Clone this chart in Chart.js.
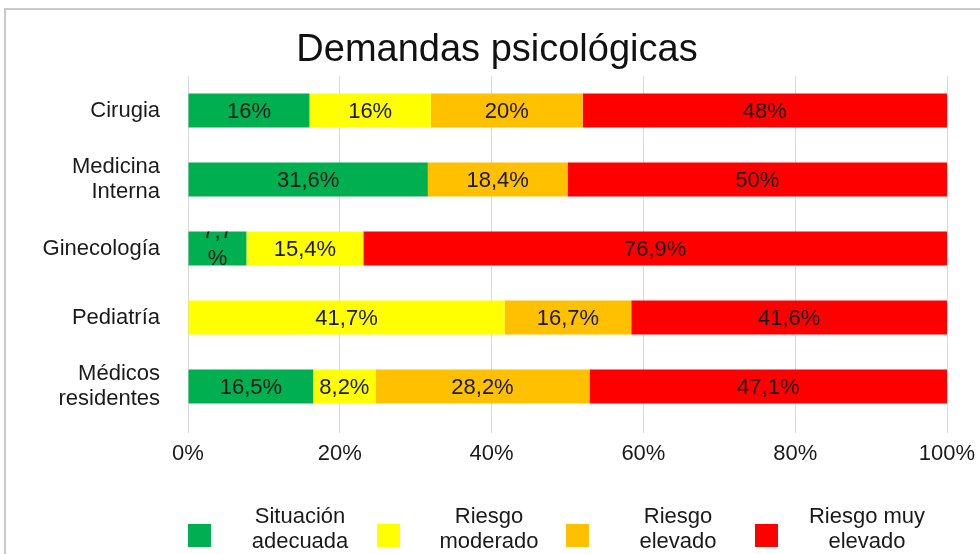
<!DOCTYPE html>
<html><head><meta charset="utf-8">
<script src="https://cdn.jsdelivr.net/npm/chart.js@4.4.1/dist/chart.umd.min.js"></script>
<style>
html,body{margin:0;padding:0;background:#fff;}
#wrap{position:relative;width:980px;height:554px;overflow:hidden;background:#fff;}
#frame{position:absolute;left:4px;top:8px;width:1000px;height:600px;border-top:2px solid #c9c9c9;border-left:2px solid #c9c9c9;}
canvas{position:absolute;left:0;top:0;}
</style></head><body>
<div id="wrap"><div id="frame"></div><canvas id="c" width="980" height="554"></canvas></div>
<script>
const categories = ['Cirugia', ['Medicina','Interna'], 'Ginecología', 'Pediatría', ['Médicos','residentes']];
const seriesNames = [['Situación','adecuada'], ['Riesgo','moderado'], ['Riesgo','elevado'], ['Riesgo muy','elevado']];
const situacionAdecuada = [16, 31.6, 7.7, 0, 16.5];
const riesgoModerado   = [16, 0, 15.4, 41.7, 8.2];
const riesgoElevado    = [20, 18.4, 0, 16.7, 28.2];
const riesgoMuyElevado = [48, 50, 76.9, 41.6, 47.1];
const xTickValues = [0, 20, 40, 60, 80, 100];
const seriesColors = ['#00B050', '#FFFF00', '#FFC000', '#FF0000'];

const FONT = '"Liberation Sans", Arial, sans-serif';
const TEXT = '#1a1a1a';

const fmt = v => String(v).replace('.', ',');

const barLabels = {
  id: 'barLabels',
  afterDatasetsDraw(chart) {
    const ctx = chart.ctx;
    ctx.save();
    ctx.font = '22px ' + FONT;
    ctx.fillStyle = TEXT;
    ctx.textAlign = 'center';
    ctx.textBaseline = 'middle';
    chart.data.datasets.forEach((ds, di) => {
      const meta = chart.getDatasetMeta(di);
      meta.data.forEach((bar, i) => {
        const v = ds.data[i];
        if (!v) return;
        const p = bar.getProps(['x', 'y', 'base', 'height'], true);
        const left = Math.min(p.x, p.base), right = Math.max(p.x, p.base);
        const w = right - left;
        const cx = (left + right) / 2;
        const txt = fmt(v) + '%';
        if (ctx.measureText(txt).width + 10 > w) {
          ctx.save();
          ctx.beginPath();
          ctx.rect(left, p.y - p.height / 2, w, p.height);
          ctx.clip();
          ctx.fillText(fmt(v), cx, p.y - 17);
          ctx.fillText('%', cx, p.y + 10);
          ctx.restore();
        } else {
          ctx.fillText(txt, cx, p.y + 1);
        }
      });
    });
    ctx.restore();
  }
};

const customLegend = {
  id: 'customLegend',
  afterDraw(chart) {
    const ctx = chart.ctx;
    const area = chart.chartArea;
    ctx.save();
    ctx.font = '22px ' + FONT;
    ctx.textAlign = 'center';
    ctx.textBaseline = 'alphabetic';
    chart.data.datasets.forEach((ds, i) => {
      const bx = area.left + i * 189;
      ctx.fillStyle = ds.backgroundColor;
      ctx.fillRect(bx, area.bottom + 103, 23, 23);
      ctx.fillStyle = TEXT;
      ds.label.forEach((line, li) => ctx.fillText(line, bx + 112, area.bottom + 102 + li * 25));
    });
    ctx.restore();
  }
};

const seriesData = [situacionAdecuada, riesgoModerado, riesgoElevado, riesgoMuyElevado];

new Chart(document.getElementById('c'), {
  type: 'bar',
  data: {
    labels: categories,
    datasets: seriesData.map((d, i) => ({
      label: seriesNames[i],
      data: d,
      backgroundColor: seriesColors[i],
      borderWidth: 0,
      categoryPercentage: 1,
      barPercentage: 0.493
    }))
  },
  options: {
    indexAxis: 'y',
    responsive: false,
    animation: false,
    devicePixelRatio: 1,
    layout: { padding: { left: 14, right: 0, top: 0, bottom: 87 } },
    plugins: {
      legend: { display: false },
      tooltip: { enabled: false },
      title: {
        display: true,
        text: 'Demandas psicológicas',
        color: '#111',
        font: { family: FONT, size: 38, weight: 'normal' },
        padding: { top: 28, bottom: 2.4 }
      }
    },
    scales: {
      x: {
        stacked: true,
        min: 0, max: 100,
        afterBuildTicks: s => { s.ticks = xTickValues.map(v => ({ value: v })); },
        afterFit: s => { s.height = 46; s.paddingLeft = 0; s.paddingRight = 0; },
        grid: { color: '#d9d9d9', lineWidth: 1, drawTicks: true, tickLength: 12, tickColor: '#d9d9d9' },
        border: { display: false },
        ticks: {
          color: TEXT, padding: 8, maxRotation: 0,
          font: { family: FONT, size: 22 },
          callback: v => v + '%'
        }
      },
      y: {
        stacked: true,
        afterFit: s => { s.width = 174; },
        grid: { display: false, drawTicks: false },
        border: { display: false },
        ticks: {
          color: TEXT, padding: 28,
          font: { family: FONT, size: 22, lineHeight: 1.15 }
        }
      },
      yRight: {
        type: 'category',
        position: 'right',
        display: true,
        afterFit: s => { s.width = 33; },
        grid: { display: false, drawTicks: false },
        border: { display: false },
        ticks: { display: false }
      }
    }
  },
  plugins: [barLabels, customLegend]
});
</script>
</body></html>
